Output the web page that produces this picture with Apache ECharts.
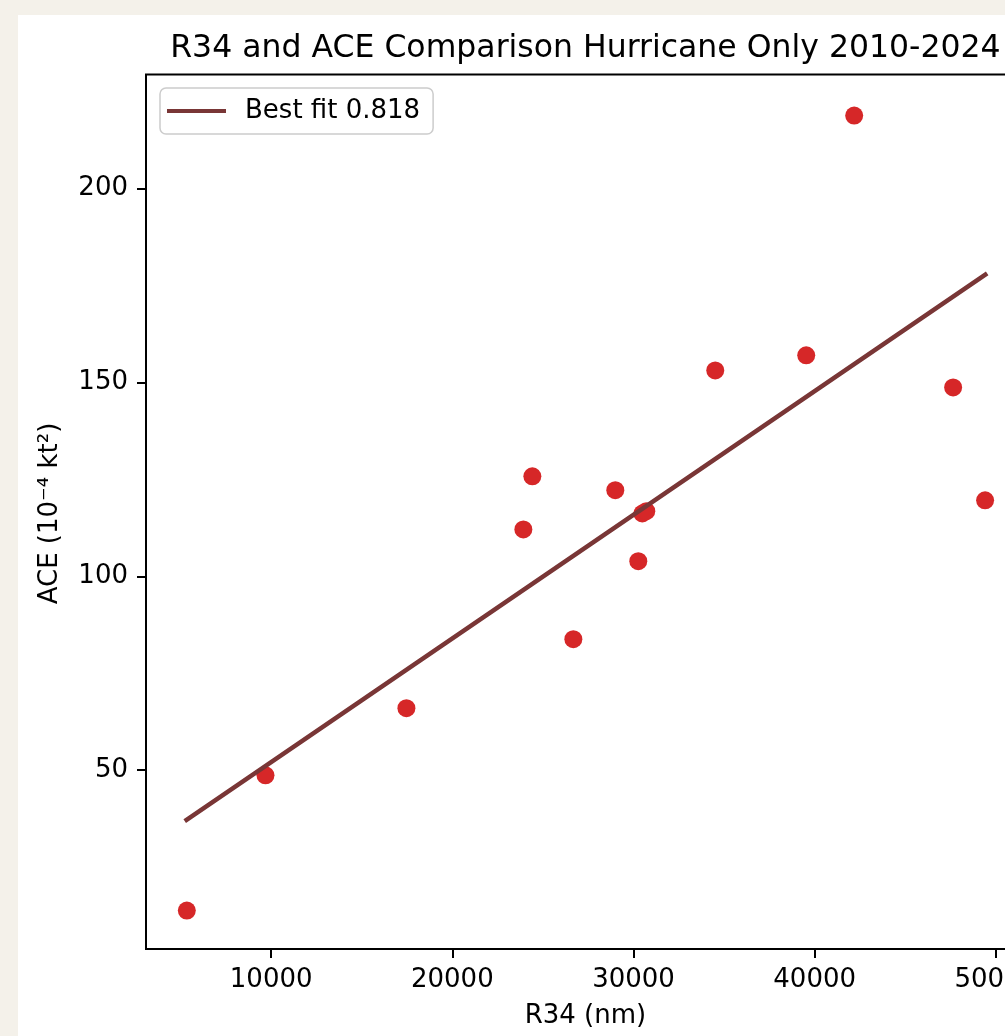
<!DOCTYPE html>
<html>
<head>
<meta charset="utf-8">
<script src="https://cdn.jsdelivr.net/npm/echarts@6/dist/echarts.min.js"></script>
<style>
html, body { margin: 0; padding: 0; width: 1005px; height: 1036px; overflow: hidden; background: #f4f1ea; }
#panel { position: absolute; left: 18px; top: 15px; width: 1200px; height: 1200px; background: #ffffff; }
#chart { position: absolute; left: 0; top: 0; width: 1100px; height: 1036px; }
</style>
</head>
<body>
<div id="panel"></div>
<div id="chart"></div>
<script>
// Data
const r34Values = [5343, 9686, 17465, 23920, 24417, 26679, 28996, 30265, 30486, 30706, 34513, 39534, 42182, 47644, 49409];
const aceValues = [13.8, 48.7, 66.0, 112.1, 125.8, 83.8, 122.2, 103.9, 116.2, 116.8, 153.1, 157.0, 218.8, 148.7, 119.6];
const fitX = [5330, 49420];
const fitY = [37.2, 177.8];
const xTicks = [10000, 20000, 30000, 40000, 50000];
const yTicks = [50, 100, 150, 200];
const titleText = 'R34 and ACE Comparison Hurricane Only 2010-2024';
const xName = 'R34 (nm)';
const yName = 'ACE (10\u207B\u2074 kt\u00B2)';
const fitName = 'Best fit 0.818';

const FONT = 'DejaVu Sans';
const scatterData = r34Values.map((x, i) => [x, aceValues[i]]);
const fitData = fitX.map((x, i) => [x, fitY[i]]);

const chart = echarts.init(document.getElementById('chart'), null, { renderer: 'canvas' });
chart.setOption({
  animation: false,
  backgroundColor: 'transparent',
  textStyle: { fontFamily: FONT },
  grid: {
    left: 146, top: 74.5, width: 878.8, height: 874.5,
    show: true, borderColor: '#000', borderWidth: 2, backgroundColor: 'transparent',
    containLabel: false, outerBoundsMode: 'none'
  },
  legend: {
    show: true,
    left: 160, top: 88,
    data: [{ name: fitName, icon: 'rect' }],
    itemWidth: 59, itemHeight: 4,
    padding: [10, 13, 10, 7],
    backgroundColor: 'rgba(255,255,255,0.8)',
    borderColor: '#cccccc', borderWidth: 1.5, borderRadius: 6,
    textStyle: { fontFamily: FONT, fontSize: 26, color: '#000', padding: [0, 0, 0, 14] },
    selectedMode: false
  },
  xAxis: {
    type: 'value', min: 3090, max: 51600,
    axisLine: { show: false },
    splitLine: { show: false },
    axisTick: { show: true, inside: false, length: 9, lineStyle: { color: '#000', width: 2 }, customValues: xTicks },
    axisLabel: { show: true, margin: 18, fontFamily: FONT, fontSize: 26, color: '#000', customValues: xTicks, formatter: v => String(v) }
  },
  yAxis: {
    type: 'value', min: 3.9, max: 229.4,
    axisLine: { show: false },
    splitLine: { show: false },
    axisTick: { show: true, inside: false, length: 9, lineStyle: { color: '#000', width: 2 }, customValues: yTicks },
    axisLabel: { show: true, margin: 18, fontFamily: FONT, fontSize: 26, color: '#000', customValues: yTicks, formatter: v => String(v) }
  },
  graphic: [
    { type: 'text', z: 100, style: { text: titleText, x: 585.4, y: 48.5, align: 'center', verticalAlign: 'middle', font: '31.5px "DejaVu Sans"', fill: '#000' } },
    { type: 'text', z: 100, style: { text: xName, x: 585.4, y: 1016.5, align: 'center', verticalAlign: 'middle', font: '26px "DejaVu Sans"', fill: '#000' } },
    { type: 'text', z: 100, x: 50, y: 513.5, rotation: Math.PI / 2, style: { text: yName, x: 0, y: 0, align: 'center', verticalAlign: 'middle', font: '26px "DejaVu Sans"', fill: '#000' } }
  ],
  series: [
    {
      type: 'scatter', name: 'data', data: scatterData,
      symbol: 'circle', symbolSize: 18,
      itemStyle: { color: '#d62728', opacity: 1 },
      z: 2
    },
    {
      type: 'line', name: fitName, data: fitData,
      symbol: 'none', showSymbol: false,
      lineStyle: { color: '#793636', width: 4.5, cap: 'square' },
      itemStyle: { color: '#793636' },
      z: 3
    }
  ]
});
</script>
</body>
</html>
